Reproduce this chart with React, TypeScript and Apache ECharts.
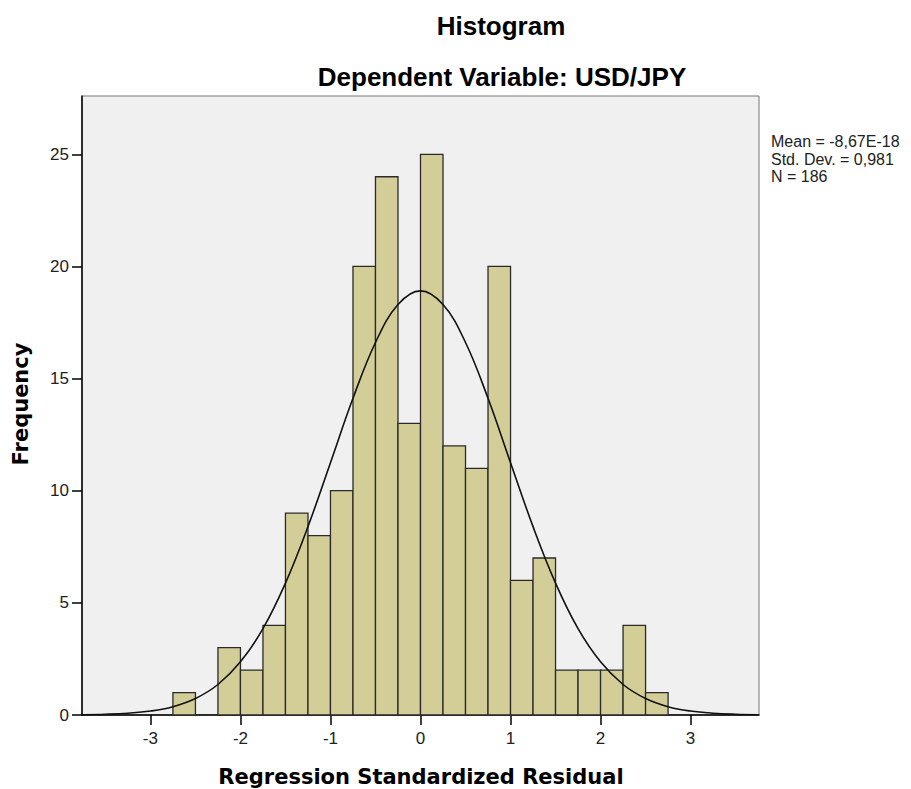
import React, { useEffect, useRef } from "react";
import * as echarts from "echarts";

const binLower = [-2.75, -2.5, -2.25, -2.0, -1.75, -1.5, -1.25, -1.0, -0.75, -0.5, -0.25, 0.0, 0.25, 0.5, 0.75, 1.0, 1.25, 1.5, 1.75, 2.0, 2.25, 2.5];
const binUpper = [-2.5, -2.25, -2.0, -1.75, -1.5, -1.25, -1.0, -0.75, -0.5, -0.25, 0.0, 0.25, 0.5, 0.75, 1.0, 1.25, 1.5, 1.75, 2.0, 2.25, 2.5, 2.75];
const counts = [1, 0, 3, 2, 4, 9, 8, 10, 20, 24, 13, 25, 12, 11, 20, 6, 7, 2, 2, 2, 4, 1];

const curveX = [-3.75, -3.5, -3.25, -3.0, -2.75, -2.5, -2.25, -2.0, -1.75, -1.5, -1.25, -1.0, -0.75, -0.5, -0.25, 0.0, 0.25, 0.5, 0.75, 1.0, 1.25, 1.5, 1.75, 2.0, 2.25, 2.5, 2.75, 3.0, 3.25, 3.5, 3.75];
const curveY = [0.013, 0.033, 0.078, 0.176, 0.372, 0.736, 1.36, 2.37, 3.85, 5.88, 8.4, 11.25, 14.12, 16.61, 18.3, 18.91, 18.3, 16.61, 14.12, 11.25, 8.4, 5.88, 3.85, 2.37, 1.36, 0.736, 0.372, 0.176, 0.078, 0.033, 0.013];

const xTicks = [-3, -2, -1, 0, 1, 2, 3];
const yTicks = [0, 5, 10, 15, 20, 25];

const titleText = "Histogram";
const subtitleText = "Dependent Variable: USD/JPY";
const xName = "Regression Standardized Residual";
const yName = "Frequency";
const statLines = ["Mean = -8,67E-18", "Std. Dev. = 0,981", "N = 186"];

export default function App() {
  const ref = useRef<HTMLDivElement>(null);
  useEffect(() => {
    if (!ref.current) return;
    const chart = echarts.init(ref.current, undefined, { renderer: "svg" });
    const histData = binLower.map((lo, i) => [lo, binUpper[i], counts[i]]);
    const curveData = curveX.map((x, i) => [x, curveY[i]]);
    chart.setOption({
      animation: false,
      backgroundColor: "#ffffff",
      grid: {
        left: 82,
        right: 152,
        top: 96,
        bottom: 74,
        show: true,
        backgroundColor: "#f0f0f0",
        borderColor: "#777777",
        borderWidth: 1,
      },
      xAxis: {
        type: "value",
        min: -3.76,
        max: 3.76,
        splitLine: { show: false },
        axisLine: { show: true, onZero: false, lineStyle: { color: "#000", width: 1.5 } },
        axisTick: { show: true, length: 10, customValues: xTicks, lineStyle: { color: "#000", width: 1.5 } },
        axisLabel: {
          customValues: xTicks,
          margin: 15,
          fontSize: 17,
          fontFamily: "Liberation Sans, Arial, sans-serif",
          color: "#222",
          formatter: (v: number) => String(v),
        },
      },
      yAxis: {
        type: "value",
        min: 0,
        max: 27.6,
        splitLine: { show: false },
        axisLine: { show: true, onZero: false, lineStyle: { color: "#000", width: 1.5 } },
        axisTick: { show: true, length: 10, customValues: yTicks, lineStyle: { color: "#000", width: 1.5 } },
        axisLabel: {
          customValues: yTicks,
          margin: 13,
          fontSize: 17,
          fontFamily: "Liberation Sans, Arial, sans-serif",
          color: "#222",
        },
      },
      series: [
        {
          type: "custom",
          z: 2,
          data: histData,
          encode: { x: [0, 1], y: 2 },
          renderItem: (params: any, api: any) => {
            const x0 = api.value(0);
            const x1 = api.value(1);
            const c = api.value(2);
            if (!c) return null;
            const p0 = api.coord([x0, c]);
            const p1 = api.coord([x1, 0]);
            return {
              type: "rect",
              shape: { x: p0[0], y: p0[1], width: p1[0] - p0[0], height: p1[1] - p0[1] },
              style: { fill: "#d3ce98", stroke: "#2a2a2a", lineWidth: 1.3 },
            };
          },
        },
        {
          type: "line",
          z: 3,
          data: curveData,
          smooth: 0.4,
          showSymbol: false,
          symbol: "none",
          lineStyle: { color: "#111", width: 1.6 },
        },
      ],
      graphic: [
        {
          type: "text",
          x: 501,
          y: 26,
          style: {
            text: titleText,
            fontSize: 26,
            fontWeight: "bold",
            fontFamily: "Liberation Sans, Arial, sans-serif",
            fill: "#000",
            align: "center",
            verticalAlign: "middle",
          },
        },
        {
          type: "text",
          x: 502,
          y: 77,
          style: {
            text: subtitleText,
            fontSize: 26,
            fontWeight: "bold",
            fontFamily: "Liberation Sans, Arial, sans-serif",
            fill: "#000",
            align: "center",
            verticalAlign: "middle",
          },
        },
        {
          type: "text",
          x: 421,
          y: 777,
          style: {
            text: xName,
            fontSize: 21,
            fontWeight: "bold",
            fontFamily: "DejaVu Sans, Verdana, sans-serif",
            fill: "#000",
            align: "center",
            verticalAlign: "middle",
          },
        },
        {
          type: "text",
          x: 21,
          y: 404,
          rotation: Math.PI / 2,
          style: {
            text: yName,
            fontSize: 21,
            fontWeight: "bold",
            fontFamily: "DejaVu Sans, Verdana, sans-serif",
            fill: "#000",
            align: "center",
            verticalAlign: "middle",
          },
        },
        ...statLines.map((t, i) => ({
          type: "text",
          x: 771,
          y: 141.5 + i * 17.5,
          style: {
            text: t,
            fontSize: 16,
            fontFamily: "Liberation Sans, Arial, sans-serif",
            fill: "#222",
            align: "left",
            verticalAlign: "middle",
          },
        })),
      ],
    });
    return () => chart.dispose();
  }, []);
  return (
    <div
      ref={ref}
      style={{ position: "fixed", left: 0, top: 0, width: 911, height: 789, background: "#fff" }}
    />
  );
}
